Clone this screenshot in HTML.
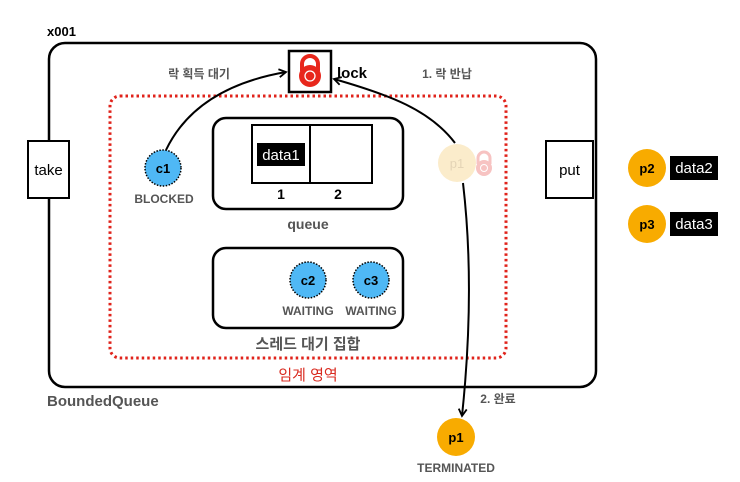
<!DOCTYPE html>
<html><head><meta charset="utf-8"><style>
html,body{margin:0;padding:0;background:#fff;width:740px;height:482px;overflow:hidden}
svg{display:block}
text{font-family:"Liberation Sans","Noto Sans CJK KR",sans-serif}
</style></head><body>
<svg width="740" height="482" viewBox="0 0 740 482" xmlns="http://www.w3.org/2000/svg">
<defs>
<marker id="ah" markerWidth="10" markerHeight="10" refX="8" refY="5" orient="auto" markerUnits="userSpaceOnUse">
<path d="M1,1 L8,5 L1,9" fill="none" stroke="#000" stroke-width="1.8"/>
</marker>
</defs>
<text x="47" y="36" font-size="13" font-weight="bold">x001</text>
<rect x="49" y="43" width="547" height="344" rx="16" fill="none" stroke="#000" stroke-width="2.5"/>
<rect x="28" y="141" width="41" height="57" fill="#fff" stroke="#000" stroke-width="2"/>
<text x="48.5" y="175" font-size="15" text-anchor="middle">take</text>
<rect x="546" y="141" width="47" height="57" fill="#fff" stroke="#000" stroke-width="2"/>
<text x="569.5" y="175" font-size="15" text-anchor="middle">put</text>
<rect x="110" y="96" width="396" height="262" rx="10" fill="none" stroke="#e0231b" stroke-width="3" stroke-dasharray="2.5,3"/>
<rect x="289" y="51" width="42" height="41" fill="#fff" stroke="#000" stroke-width="2.5"/>
<path d="M302,71 V64 a8,8 0 0 1 16,0 V71" fill="none" stroke="#e8271c" stroke-width="4"/>
<circle cx="310" cy="76" r="11" fill="#e8271c"/>
<circle cx="310" cy="76" r="5" fill="none" stroke="#fff" stroke-width="1.3"/>
<text x="337" y="78" font-size="15" font-weight="bold">lock</text>
<text x="199" y="78" font-size="12" fill="#555" font-weight="bold" text-anchor="middle">락 획득 대기</text>
<text x="447" y="78" font-size="12" fill="#555" font-weight="bold" text-anchor="middle">1. 락 반납</text>
<rect x="213" y="118" width="190" height="91" rx="13" fill="none" stroke="#000" stroke-width="2.5"/>
<rect x="252" y="125" width="120" height="58" fill="#fff" stroke="#000" stroke-width="2"/>
<line x1="310" y1="125" x2="310" y2="183" stroke="#000" stroke-width="2"/>
<rect x="257" y="143" width="48" height="23" fill="#000"/>
<text x="281" y="160" font-size="15" fill="#fff" text-anchor="middle">data1</text>
<text x="281" y="199" font-size="14" font-weight="bold" text-anchor="middle">1</text>
<text x="338" y="199" font-size="14" font-weight="bold" text-anchor="middle">2</text>
<text x="308" y="229" font-size="14" font-weight="bold" fill="#555" text-anchor="middle">queue</text>
<rect x="213" y="248" width="190" height="80" rx="13" fill="none" stroke="#000" stroke-width="2.5"/>
<circle cx="308" cy="280" r="18" fill="#4fb8f5" stroke="#000" stroke-width="1.5" stroke-dasharray="1.5,1.5"/>
<text x="308" y="285" font-size="13" font-weight="bold" text-anchor="middle">c2</text>
<circle cx="371" cy="280" r="18" fill="#4fb8f5" stroke="#000" stroke-width="1.5" stroke-dasharray="1.5,1.5"/>
<text x="371" y="285" font-size="13" font-weight="bold" text-anchor="middle">c3</text>
<text x="308" y="315" font-size="12" font-weight="bold" fill="#555" text-anchor="middle">WAITING</text>
<text x="371" y="315" font-size="12" font-weight="bold" fill="#555" text-anchor="middle">WAITING</text>
<text x="308" y="349" font-size="15" font-weight="bold" fill="#555" text-anchor="middle">스레드 대기 집합</text>
<text x="308" y="380" font-size="15" fill="#d92b20" text-anchor="middle">임계 영역</text>
<circle cx="163" cy="168" r="18" fill="#4fb8f5" stroke="#000" stroke-width="1.5" stroke-dasharray="1.5,1.5"/>
<text x="163" y="173" font-size="13" font-weight="bold" text-anchor="middle">c1</text>
<text x="164" y="203" font-size="12" font-weight="bold" fill="#555" text-anchor="middle">BLOCKED</text>
<circle cx="457" cy="163" r="19" fill="#fbeccb"/>
<text x="457" y="168" font-size="13" fill="#e4d4b6" text-anchor="middle">p1</text>
<path d="M478,164 V158 a6,6 0 0 1 12,0 V164" fill="none" stroke="#f7c3c2" stroke-width="3"/>
<circle cx="484" cy="168" r="8" fill="#f7c3c2"/>
<circle cx="484" cy="168" r="3.5" fill="none" stroke="#fff" stroke-width="1"/>
<path d="M166,150 C190,100 240,80 286,72" fill="none" stroke="#000" stroke-width="2" marker-end="url(#ah)"/>
<path d="M455,143 C430,110 390,95 334,79" fill="none" stroke="#000" stroke-width="2" marker-end="url(#ah)"/>
<path d="M463,183 C472,260 470,340 462,416" fill="none" stroke="#000" stroke-width="2" marker-end="url(#ah)"/>
<text x="498" y="403" font-size="12" font-weight="bold" fill="#555" text-anchor="middle">2. 완료</text>
<text x="47" y="406" font-size="15" font-weight="bold" fill="#555">BoundedQueue</text>
<circle cx="456" cy="437" r="19" fill="#f8ab00"/>
<text x="456" y="442" font-size="13" font-weight="bold" text-anchor="middle">p1</text>
<text x="456" y="472" font-size="12" font-weight="bold" fill="#555" text-anchor="middle">TERMINATED</text>
<circle cx="647" cy="168" r="19" fill="#f8ab00"/>
<text x="647" y="173" font-size="13" font-weight="bold" text-anchor="middle">p2</text>
<rect x="670" y="156" width="48" height="24" fill="#000"/>
<text x="694" y="173" font-size="15" fill="#fff" text-anchor="middle">data2</text>
<circle cx="647" cy="224" r="19" fill="#f8ab00"/>
<text x="647" y="229" font-size="13" font-weight="bold" text-anchor="middle">p3</text>
<rect x="670" y="212" width="48" height="24" fill="#000"/>
<text x="694" y="229" font-size="15" fill="#fff" text-anchor="middle">data3</text>
</svg>
</body></html>
